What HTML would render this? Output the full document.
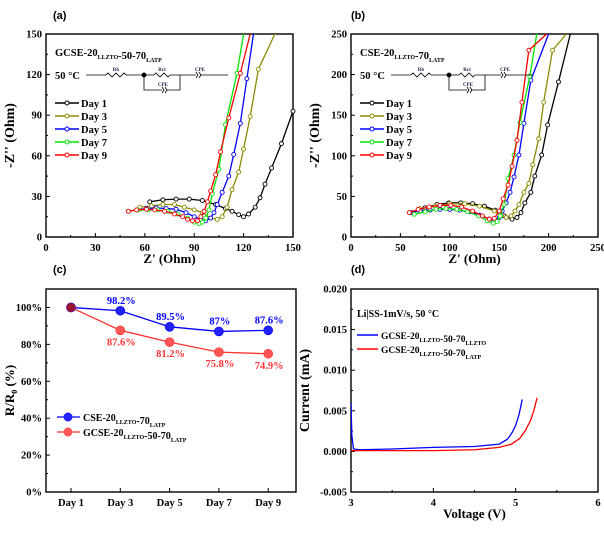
<!DOCTYPE html>
<html><head><meta charset="utf-8"><style>
body{margin:0;background:#fff}
svg text{font-family:"Liberation Serif",serif;font-weight:bold}
.pl{font-family:"Liberation Sans",sans-serif!important}
</style></head><body>
<svg id="s" width="604" height="528" viewBox="0 0 604 528"></svg>
<script>
// Panel (a) data: [Z', -Z'']
const aDay1=[[63,26],[71,27.5],[79,28],[87,28],[95,27],[103,24],[109,21],[113,19],[117,16.5],[120,15],[123,17],[127,22],[130,29],[133,39],[137,51],[143,69],[150,93]];
const aDay3=[[57,22],[64,23],[71,24],[78,24],[84,22],[90,20],[95,18],[100,14],[104,13],[107,15],[110,22],[113,35],[117,48],[120,65],[124,89],[129,124],[139,150]];
const aDay5=[[55,20],[61,21],[67,21.5],[73,21],[79,20.5],[85,18],[90,15],[94,13],[97,12],[100,14],[102,18],[104,24],[107,33],[111,45],[114,61],[118,84],[122,117],[126,150]];
const aDay7=[[50,19],[56,20],[62,20],[68,20],[74,19],[80,17],[86,14],[90,11],[93,10],[95,11],[97,14],[99,20],[101,32],[105,50],[109,83],[116,121],[120,150]];
const aDay9=[[50,19],[55,20],[61,20.5],[66,20],[72,19],[78,17],[83,15],[86,13],[89,12],[92,12],[94,15],[96,19],[98,26],[100,34],[103,46],[106,63],[111,88],[118,121],[124,150]];
// Panel (b) data
const bDay1=[[62,30],[75,36],[87,40],[99,42],[111,42],[123,41],[135,38],[146,33],[155,26],[163,22],[168,24],[172,30],[176,42],[182,55],[186,75],[193,101],[199,138],[210,191],[222,250]];
const bDay3=[[70,35],[85,38],[100,41],[115,41],[130,38],[145,32],[152,27],[157,24],[162,26],[166,32],[170,40],[175,55],[180,66],[184,89],[190,121],[195,166],[204,230],[218,250]];
const bDay5=[[60,30],[70,32],[80,33],[90,34],[100,34],[110,33],[120,31],[130,27],[140,22],[146,20],[150,24],[153,32],[157,42],[161,55],[165,74],[170,101],[175,140],[182,193],[200,250]];
const bDay7=[[64,28],[75,31],[86,34],[96,35],[107,34],[118,31],[129,26],[138,20],[144,17],[148,19],[151,26],[155,40],[159,72],[165,101],[171,141],[181,198],[188,250]];
const bDay9=[[59,30],[68,34],[79,37],[90,39],[101,39],[112,37],[123,32],[133,26],[140,22],[145,23],[150,32],[154,47],[159,64],[163,87],[168,119],[173,166],[180,230],[198,250]];
// Panel (c)
const cCats=["Day 1","Day 3","Day 5","Day 7","Day 9"];
const cCSE=[100,98.2,89.5,87,87.6];
const cGCSE=[100,87.6,81.2,75.8,74.9];
const cCSElbl=["","98.2%","89.5%","87%","87.6%"];
const cGCSElbl=["","87.6%","81.2%","75.8%","74.9%"];
// Panel (d)
const dBlue=[[3,0.006],[3.01,0.002],[3.03,0.0003],[3.1,0.0002],[3.5,0.0003],[4,0.0005],[4.5,0.0006],[4.8,0.0009],[4.9,0.0015],[4.95,0.0022],[5.0,0.0032],[5.04,0.0045],[5.08,0.0064]];
const dRed=[[3,0.0001],[3.5,0.0001],[4,0.0001],[4.5,0.0002],[4.8,0.0005],[4.95,0.0009],[5.05,0.0016],[5.12,0.0026],[5.18,0.0038],[5.22,0.005],[5.26,0.0066]];

const S=document.getElementById('s');const NS="http://www.w3.org/2000/svg";
function el(t,a,p){const e=document.createElementNS(NS,t);for(const k in a)e.setAttribute(k,a[k]);(p||S).appendChild(e);return e;}
function txt(x,y,s,sz,anc,fill,extra){const e=el('text',Object.assign({x:x,y:y,'font-size':sz,'text-anchor':anc||'start',fill:fill||'#000'},extra||{}));e.innerHTML=s;return e;}
function scale(d0,d1,r0,r1){return v=>r0+(v-d0)/(d1-d0)*(r1-r0);}
function axes(L,R,T,B,xt,yt,xs,ys,xfmt,yfmt,xminor,yminor){
  const g=el('g',{});
  
  el('rect',{x:L,y:T,width:R-L,height:B-T,fill:'none',stroke:'#000','stroke-width':1.4},g);
  xt.forEach(v=>{const x=xs(v);el('line',{x1:x,x2:x,y1:B,y2:B-4,stroke:'#000'},g);const t=txt(x,B+14,xfmt(v),10.5,'middle');});
  xminor.forEach(v=>{const x=xs(v);el('line',{x1:x,x2:x,y1:B,y2:B-2,stroke:'#000'},g);});
  yt.forEach(v=>{const y=ys(v);el('line',{x1:L,x2:L+4,y1:y,y2:y,stroke:'#000'},g);const t=txt(L-4,y+3.5,yfmt(v),10.5,'end');});
  yminor.forEach(v=>{const y=ys(v);el('line',{x1:L,x2:L+2,y1:y,y2:y,stroke:'#000'},g);});
}
function series(data,xs,ys,col,name,marker,L,R,T,B,ymax){
  const g=el('g',{});
  
  const cid='c'+name;const cp=el('clipPath',{id:cid},g);el('rect',{x:L,y:T,width:R-L,height:B-T},cp);
  el('polyline',{points:data.map(p=>xs(p[0])+','+ys(p[1])).join(' '),fill:'none',stroke:col,'stroke-width':1.3,'clip-path':'url(#'+cid+')'},g);
  if(marker)data.forEach(p=>{if(p[1]<ymax)el('circle',{cx:xs(p[0]),cy:ys(p[1]),r:2,fill:'#fff',stroke:col,'stroke-width':0.9,'clip-path':'url(#'+cid+')'},g);});
}
function circuit(x0,y0,x1){
  const g=el('g',{stroke:'#000','stroke-width':0.8,fill:'none'});
  
  el('line',{x1:x0,y1:y0,x2:x0+20,y2:y0},g);
  el('polyline',{points:`${x0+20},${y0} ${x0+22},${y0-2} ${x0+26},${y0+2} ${x0+30},${y0-2} ${x0+34},${y0+2} ${x0+38},${y0-2} ${x0+40},${y0}`},g);
  el('line',{x1:x0+40,y1:y0,x2:x0+58,y2:y0},g);
  el('circle',{cx:x0+58,cy:y0,r:2,fill:'#000'},g);
  el('line',{x1:x0+58,y1:y0,x2:x0+68,y2:y0},g);
  el('polyline',{points:`${x0+68},${y0} ${x0+70},${y0-2} ${x0+74},${y0+2} ${x0+78},${y0-2} ${x0+82},${y0+2} ${x0+84},${y0}`},g);
  el('line',{x1:x0+84,y1:y0,x2:x0+110,y2:y0},g);
  el('polyline',{points:`${x0+58},${y0} ${x0+58},${y0+15} ${x0+76},${y0+15}`},g);
  el('polyline',{points:`${x0+76},${y0+12} ${x0+78},${y0+15} ${x0+76},${y0+18}`},g);
  el('polyline',{points:`${x0+79},${y0+12} ${x0+81},${y0+15} ${x0+79},${y0+18}`},g);
  el('polyline',{points:`${x0+81},${y0+15} ${x0+94},${y0+15} ${x0+94},${y0}`},g);
  el('polyline',{points:`${x0+110},${y0-3} ${x0+112},${y0} ${x0+110},${y0+3}`},g);
  el('polyline',{points:`${x0+113},${y0-3} ${x0+115},${y0} ${x0+113},${y0+3}`},g);
  el('line',{x1:x0+115,y1:y0,x2:x1,y2:y0},g);
  [['Rb',x0+30,y0-4],['Rct',x0+76,y0-4],['CPE',x0+77,y0+11],['CPE',x0+114,y0-4]].forEach(a=>{const t=txt(a[1],a[2],a[0],5,'middle','#224',{'font-weight':'normal'});});
}
function nyquist(L,R,T,B,xmax,ymax,xstep,ystep,title,sets,lab,lx){
  const xs=scale(0,xmax,L,R),ys=scale(0,ymax,B,T);
  const xt=[],yt=[],xm=[];for(let v=0;v<=xmax+1e-9;v+=xstep){xt.push(v);if(v+xstep/2<xmax)xm.push(v+xstep/2);}
  const ym=[];for(let v=0;v<=ymax+1e-9;v+=ystep){yt.push(v);if(v+ystep/2<ymax)ym.push(v+ystep/2);}
  axes(L,R,T,B,xt,yt,xs,ys,v=>v,v=>v,xm,ym);
  const cols=['#000','#8b8b00','#0000ff','#00e600','#ff0000'];
  sets.forEach((d,i)=>series(d,xs,ys,cols[i],'series-day-'+(2*i+1)+lab,true,L,R,T,B,ymax));
  const t=txt(L+9,T+22,title,10.5);
  const t2=txt(L+9,T+45,'50 °C',10.5);
  circuit(L+40,T+41,L+182);
  cols.forEach((c,i)=>{const y=T+69+i*13;const g=el('g',{});
    el('line',{x1:L+9,x2:L+33,y1:y,y2:y,stroke:c,'stroke-width':1.5},g);el('circle',{cx:L+21,cy:y,r:2,fill:'#fff',stroke:c},g);
    const tt=txt(L+35,y+4,'Day '+(2*i+1),10.5,'start','#000');g.appendChild(tt);});
  const xl=txt((L+R)/2,B+26,"Z' (Ohm)",13,'middle');
  const yl=txt(0,0,"-Z'' (Ohm)",14,'middle',null,{transform:`translate(${L-32},${(T+B)/2}) rotate(-90)`});
  const pl=txt(lx,19,lab,11,'start','#000',{class:'pl'});
}
const sub=(a,b)=>`${a}<tspan font-size="6" dy="3">${b}</tspan><tspan dy="-3"></tspan>`;
nyquist(46,293,34,237,150,150,30,30,sub('GCSE-20','LLZTO')+sub('-50-70','LATP'),[aDay1,aDay3,aDay5,aDay7,aDay9],'(a)',53);
nyquist(351,598,34,237,250,250,50,50,sub('CSE-20','LLZTO')+sub('-70','LATP'),[bDay1,bDay3,bDay5,bDay7,bDay9],'(b)',351);

// Panel c
(function(){const L=46,R=296,T=289,B=492;
  const xs=i=>71+i*49.3, ys=scale(0,110,B,T);
  axes(L,R,T,B,[0,1,2,3,4],[0,20,40,60,80,100],xs,ys,i=>cCats[i],v=>v+'%',[],[10,30,50,70,90]);
  const pl=txt(53,273,'(c)',11,'start','#000',{class:'pl'});
  const yl=txt(0,0,'R/R<tspan font-size="8" dy="3">0</tspan><tspan dy="-3"> (%)</tspan>',13,'middle',null,{transform:`translate(14,${(T+B)/2}) rotate(-90)`});
  [[cGCSE,'#ff3333','#ff5555',cGCSElbl,15,'series-gcse'],[cCSE,'#0000ff','#2222ff',cCSElbl,-7,'series-cse']].forEach(s=>{
    const g=el('g',{});
    el('polyline',{points:s[0].map((v,i)=>xs(i)+','+ys(v)).join(' '),fill:'none',stroke:s[1],'stroke-width':1.3},g);
    s[0].forEach((v,i)=>{el('circle',{cx:xs(i),cy:ys(v),r:4.5,fill:s[2],stroke:s[1],'stroke-width':0.6},g);
      if(s[3][i]){const t=txt(xs(i)+1,ys(v)+s[4],s[3][i],10.5,'middle',s[1]);g.appendChild(t);}});
  });
  el('circle',{cx:xs(0),cy:ys(100),r:4.5,fill:'#991133'});
  [['#0000ff','#2222ff',sub('CSE-20','LLZTO')+sub('-70','LATP'),417,'legend-cse'],['#ff3333','#ff5555',sub('GCSE-20','LLZTO')+sub('-50-70','LATP'),432,'legend-gcse']].forEach(l=>{
    const g=el('g',{});
    el('line',{x1:57,x2:80,y1:l[3],y2:l[3],stroke:l[0],'stroke-width':1.3},g);el('circle',{cx:68,cy:l[3],r:4.5,fill:l[1]},g);
    g.appendChild(txt(83,l[3]+4,l[2],10));});
})();

// Panel d
(function(){const L=351,R=598,T=289,B=492;
  const xs=scale(3,6,L,R), ys=scale(-0.005,0.020,B,T);
  axes(L,R,T,B,[3,4,5,6],[-0.005,0,0.005,0.010,0.015,0.020],xs,ys,v=>v,v=>v.toFixed(3),[3.5,4.5,5.5],[-0.0025,0.0025,0.0075,0.0125,0.0175]);
  series(dBlue,xs,ys,'#0000ff','series-blue',false,L,R,T,B,1);
  series(dRed,xs,ys,'#ff0000','series-red',false,L,R,T,B,1);
  const pl=txt(351,273,'(d)',11,'start','#000',{class:'pl'});
  const xl=txt((L+R)/2,518,'Voltage (V)',13,'middle');
  const yl=txt(0,0,'Current (mA)',14,'middle',null,{transform:`translate(${L-42},${(T+B)/2}) rotate(-90)`});
  const t=txt(357,317,'Li|SS-1mV/s, 50 °C',10);
  [['#0000ff',sub('GCSE-20','LLZTO')+sub('-50-70','LLZTO'),335,'legend-blue'],['#ff0000',sub('GCSE-20','LLZTO')+sub('-50-70','LATP'),349,'legend-red']].forEach(l=>{
    const g=el('g',{});
    el('line',{x1:357,x2:378,y1:l[2],y2:l[2],stroke:l[0],'stroke-width':1.5},g);
    g.appendChild(txt(381,l[2]+4,l[1],9.5));});
})();
</script>
</body></html>
